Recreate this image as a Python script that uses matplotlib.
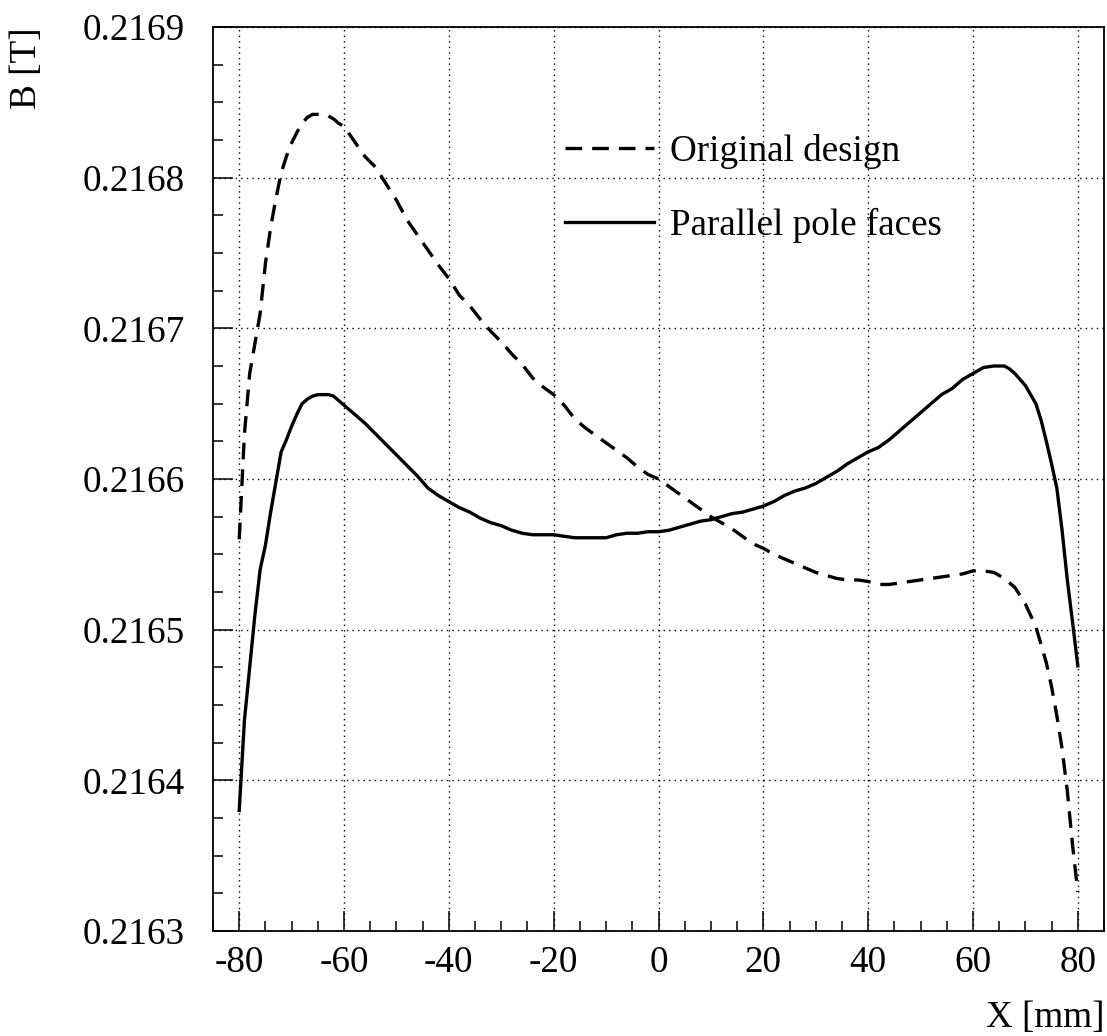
import matplotlib
matplotlib.use("Agg")
import matplotlib.pyplot as plt
from matplotlib.ticker import MultipleLocator, FormatStrFormatter

plt.rcParams['font.family'] = ['Liberation Serif', 'DejaVu Serif']
plt.rcParams['axes.unicode_minus'] = False

# Original design (dashed)
x_orig = [-80, -79, -78, -77, -76, -75, -74, -73, -72, -71, -70, -69, -68, -67,
          -66, -65, -64, -63, -62, -61, -60, -58, -56, -54, -52, -50, -48, -46,
          -44, -42, -40, -38, -36, -34, -32, -30, -28, -26, -24, -22, -20, -18,
          -16, -14, -12, -10, -8, -6, -4, -2, 0, 2, 4, 6, 8, 10, 12, 14, 16, 18,
          20, 22, 24, 26, 28, 30, 32, 34, 36, 38, 40, 42, 44, 46, 48, 50, 52, 54,
          56, 58, 60, 62, 64, 66, 68, 70, 72, 74, 75, 76, 77, 78, 79, 80]
b_orig = [0.21656, 0.21663, 0.21667, 0.21669, 0.21671, 0.216743, 0.216767,
          0.216786, 0.216803, 0.216814, 0.216823, 0.21683, 0.216836, 0.21684,
          0.216842, 0.216842, 0.216842, 0.216841, 0.216839, 0.216836, 0.216834,
          0.216824, 0.216814, 0.216807, 0.216796, 0.216785, 0.216772, 0.216762,
          0.216752, 0.216742, 0.216733, 0.216722, 0.216715, 0.216706, 0.216698,
          0.216691, 0.216683, 0.216676, 0.216667, 0.216661, 0.216656, 0.216649,
          0.21664, 0.216634, 0.216629, 0.216624, 0.216619, 0.216614, 0.216608,
          0.216603, 0.2166, 0.216595, 0.21659, 0.216585, 0.21658, 0.216575,
          0.216571, 0.216567, 0.216562, 0.216557, 0.216554, 0.21655, 0.216547,
          0.216544, 0.216541, 0.216538, 0.216536, 0.216534, 0.216533, 0.216533,
          0.216532, 0.21653, 0.21653, 0.216531, 0.216532, 0.216533, 0.216534,
          0.216535, 0.216536, 0.216537, 0.216539, 0.216539, 0.216538, 0.216534,
          0.216528, 0.216517, 0.216502, 0.216478, 0.216462, 0.216443, 0.216421,
          0.216393, 0.216357, 0.216326]

# Parallel pole faces (solid)
x_par = [-80, -79.5, -79, -78, -77, -76, -75, -74, -73, -72, -71, -70, -69, -68,
         -67, -66, -65, -64, -63, -62, -61, -60, -58, -56, -54, -52, -50, -48,
         -46, -44, -42, -40, -38, -36, -34, -32, -30, -28, -26, -24, -22, -20,
         -18, -16, -14, -12, -10, -8, -6, -4, -2, 0, 2, 4, 6, 8, 10, 12, 14, 16,
         18, 20, 22, 24, 26, 28, 30, 32, 34, 36, 38, 40, 42, 44, 46, 48, 50, 52,
         54, 56, 58, 60, 62, 64, 66, 67, 68, 70, 72, 73, 74, 75, 76, 77, 78, 79, 80]
b_par = [0.21638, 0.21641, 0.21644, 0.216475, 0.21651, 0.21654, 0.216556,
         0.216578, 0.216598, 0.216618, 0.216626, 0.216635, 0.216643, 0.21665,
         0.216653, 0.216655, 0.216656, 0.216656, 0.216656, 0.216655, 0.216652,
         0.216649, 0.216643, 0.216637, 0.21663, 0.216623, 0.216616, 0.216609,
         0.216602, 0.216594, 0.216589, 0.216585, 0.216581, 0.216578, 0.216574,
         0.216571, 0.216569, 0.216566, 0.216564, 0.216563, 0.216563, 0.216563,
         0.216562, 0.216561, 0.216561, 0.216561, 0.216561, 0.216563, 0.216564,
         0.216564, 0.216565, 0.216565, 0.216566, 0.216568, 0.21657, 0.216572,
         0.216573, 0.216575, 0.216577, 0.216578, 0.21658, 0.216582, 0.216585,
         0.216589, 0.216592, 0.216594, 0.216597, 0.216601, 0.216605, 0.21661,
         0.216614, 0.216618, 0.216621, 0.216626, 0.216632, 0.216638, 0.216644,
         0.21665, 0.216656, 0.21666, 0.216666, 0.21667, 0.216674, 0.216675,
         0.216675, 0.216673, 0.21667, 0.216662, 0.21665, 0.216639, 0.216625,
         0.21661, 0.216594, 0.216566, 0.216533, 0.216505, 0.216476]

W, H = 1107, 1036
fig = plt.figure(figsize=(W / 100, H / 100), dpi=100)
ax = fig.add_axes([213 / W, 1 - 931 / H, (1104 - 213) / W, (931 - 27) / H])

ax.plot(x_orig, b_orig, color='black', lw=2.4, linestyle=(0, (5, 3)),
        label='Original design')
ax.plot(x_par, b_par, color='black', lw=2.4, label='Parallel pole faces')

ax.set_xlim(-85, 85)
ax.set_ylim(0.2163, 0.2169)
ax.xaxis.set_major_locator(MultipleLocator(20))
ax.xaxis.set_minor_locator(MultipleLocator(5))
ax.yaxis.set_major_locator(MultipleLocator(0.0001))
ax.yaxis.set_minor_locator(MultipleLocator(0.000025))
ax.yaxis.set_major_formatter(FormatStrFormatter('%.4f'))
ax.xaxis.set_major_formatter(FormatStrFormatter('%d'))

fs = 26.7
ax.tick_params(which='both', direction='in', top=False, right=False,
               labelsize=fs, width=1.1)
ax.tick_params(which='major', length=14.5)
ax.tick_params(which='minor', length=7.2)
ax.tick_params(axis='x', pad=10.5)
ax.tick_params(axis='y', pad=20)
for s in ax.spines.values():
    s.set_linewidth(1.3)

ax.grid(True, which='major', color='black', linestyle=(0, (1, 3)), lw=1.0)

ax.legend(loc='upper left', bbox_to_anchor=(565 / W, 1 - 134 / H),
          bbox_transform=fig.transFigure, frameon=False, fontsize=fs,
          borderpad=0, borderaxespad=0, handlelength=2.4, handletextpad=0.42,
          labelspacing=1.06)

fig.text(1104 / W, 1 - 1027 / H, 'X [mm]', ha='right', va='baseline', fontsize=fs)
fig.text(27 / W, 1 - 27 / H, 'B [T]', rotation=90, ha='center', va='top',
         fontsize=fs)

fig.savefig('out.png', dpi=100)
